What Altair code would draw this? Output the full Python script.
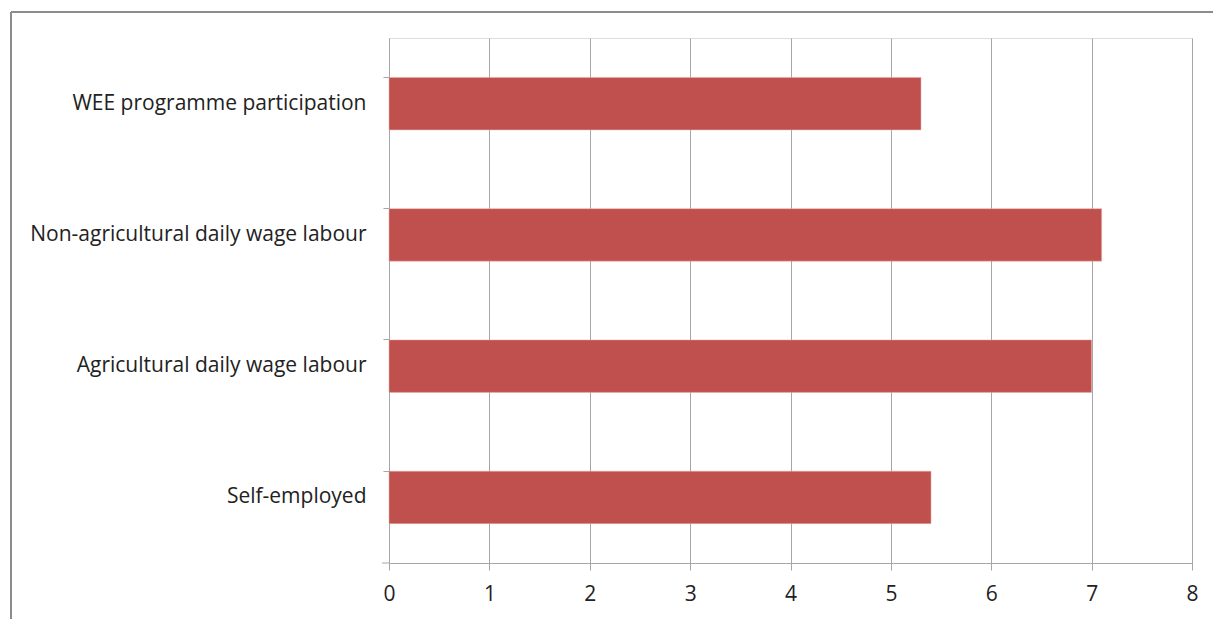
import altair as alt
import pandas as pd

categories = ["WEE programme participation", "Non-agricultural daily wage labour",
              "Agricultural daily wage labour", "Self-employed"]
values = [5.3, 7.1, 7.0, 5.4]
x_ticks = [0, 1, 2, 3, 4, 5, 6, 7, 8]

df = pd.DataFrame({"category": categories, "value": values})

W, H = 803, 525
LEFT, TOP = 389, 38
FONT = "Open Sans"
GRID = "#a6a6a6"

bars = alt.Chart(df).mark_bar(color="#C0504D", stroke="#e8b0ae", strokeWidth=0.5).encode(
    x=alt.X("value:Q",
            scale=alt.Scale(domain=[0, 8], nice=False),
            axis=alt.Axis(values=x_ticks, title=None, grid=True, gridColor=GRID,
                          gridWidth=1, domainColor=GRID, tickColor=GRID, tickSize=7,
                          labelFont=FONT, labelFontSize=21, labelColor="#222222",
                          labelPadding=13, labelFlush=False, format="d")),
    y=alt.Y("category:N", sort=categories,
            scale=alt.Scale(paddingInner=0.6, paddingOuter=0.3),
            axis=alt.Axis(title=None, bandPosition=0, domainColor=GRID, tickColor=GRID,
                          tickSize=6, labelFont=FONT, labelFontSize=21,
                          labelColor="#222222", labelPadding=17, grid=False,
                          labelLimit=400)),
)

frame_top = alt.Chart(pd.DataFrame({"a": [0]})).mark_rule(color="#8c8c8c", strokeWidth=2).encode(
    x=alt.value(11 - LEFT), x2=alt.value(1213 - LEFT), y=alt.value(12 - TOP))
frame_left = alt.Chart(pd.DataFrame({"a": [0]})).mark_rule(color="#8c8c8c", strokeWidth=2).encode(
    x=alt.value(11 - LEFT), y=alt.value(12 - TOP), y2=alt.value(619 - TOP))
axis_ext = alt.Chart(pd.DataFrame({"a": [0]})).mark_rule(color=GRID, strokeWidth=1).encode(
    x=alt.value(-7), x2=alt.value(0), y=alt.value(H))

chart = alt.layer(bars, frame_top, frame_left, axis_ext).properties(
    width=W, height=H,
    autosize=alt.AutoSizeParams(type="none"),
    padding={"left": LEFT, "top": TOP, "right": 1213 - LEFT - W, "bottom": 619 - TOP - H},
).configure_view(stroke=None).configure(background="white")

chart.save("out.html", embed_options={"renderer": "svg", "actions": False})
